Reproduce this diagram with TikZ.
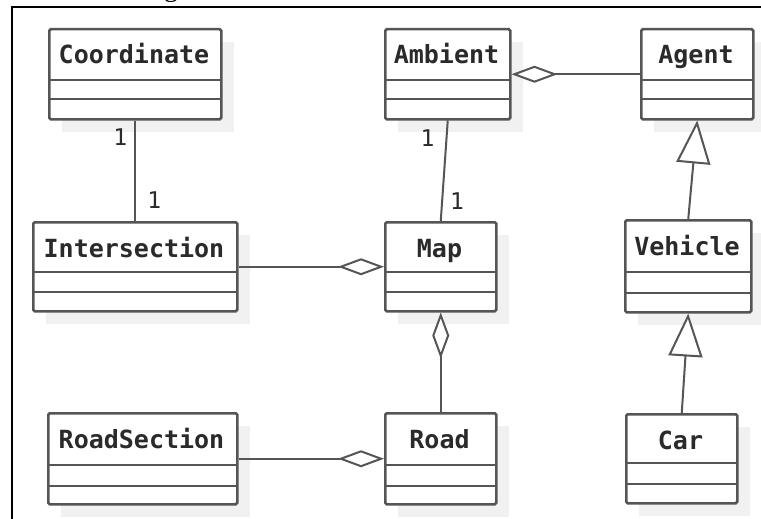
\documentclass[tikz,border=0pt]{standalone}
\usepackage{fontspec}
\setmonofont{DejaVu Sans Mono}
\newfontfamily\gfont{Liberation Serif}
\usetikzlibrary{arrows.meta}
\definecolor{linec}{HTML}{555555}
\definecolor{shadowc}{HTML}{F1F1F1}
\definecolor{textc}{HTML}{2A2A2A}
\tikzset{
  classbox/.style={draw=linec, line width=2.5pt, fill=white, rounded corners=1.5pt, inner sep=0pt},
  sepline/.style={draw=linec, line width=2.5pt},
  classname/.style={font=\ttfamily\bfseries\fontsize{25}{30}\selectfont, text=textc, anchor=base, inner sep=0pt},
  mult/.style={font=\ttfamily\fontsize{23}{28}\selectfont, text=textc, inner sep=0pt},
  conn/.style={draw=linec, line width=2pt},
  agg/.style={-{Diamond[fill=white, length=46pt, width=17pt]}},
  gen/.style={-{Triangle[fill=white, length=43pt, width=34pt]}},
}
\newcommand\umlclass[8]{%
  \fill[shadowc] ({#3+14},{#4+14}) rectangle ({#5+14},{#6+14});
  \node[classbox, minimum width={(#5-#3)*1pt}, minimum height={(#6-#4)*1pt}, anchor=north west] (#1) at (#3,#4) {};
  \draw[sepline] ({#3},{#7}) -- ({#5},{#7});
  \draw[sepline] ({#3},{#8}) -- ({#5},{#8});
  \node[classname] (#1-name) at ({(#3+#5)/2},{#4+36}) {#2};
}
\begin{document}
\begin{tikzpicture}[x=1pt, y=-1pt]
\useasboundingbox (0,0) rectangle (761,519);
\fill[white] (0,0) rectangle (761,519);
% frame
\draw[black, line width=1.5pt] (12,530) -- (12,7) -- (775,7);
\node[font=\gfont\fontsize{28}{30}\selectfont, anchor=base, inner sep=0pt] (cut) at (171,-3) {g};
% classes
\umlclass{coord}{Coordinate}{48}{28}{220}{118}{80}{99}
\umlclass{amb}{Ambient}{384}{28}{509}{118}{80}{99}
\umlclass{agent}{Agent}{640}{28}{752}{118}{80}{99}
\umlclass{inter}{Intersection}{32}{221}{236}{310}{272}{292}
\umlclass{map}{Map}{384}{221}{495}{310}{272}{292}
\umlclass{veh}{Vehicle}{624}{219}{750}{311}{272}{293}
\umlclass{rs}{RoadSection}{47}{412}{236}{503}{465}{486}
\umlclass{road}{Road}{384}{412}{495}{503}{465}{486}
\umlclass{car}{Car}{625}{413}{736}{502}{463}{484}
% connectors
\draw[conn] (coord.south) -- (inter.north)
  node[mult, pos=0.165, anchor=east, xshift=-7pt] (m1) {1}
  node[mult, pos=0.79, anchor=west, xshift=11pt] (m2) {1};
\draw[conn] (amb.south) -- (map.north)
  node[mult, pos=0.175, anchor=east, xshift=-11pt] (m3) {1}
  node[mult, pos=0.8, anchor=west, xshift=7pt] (m4) {1};
\draw[conn, agg] (agent.west) -- (amb.east);
\draw[conn, agg] (inter.east) -- (map.west);
\draw[conn, agg] (rs.east) -- (road.west);
\draw[conn, agg] (road.north) -- (map.south);
\draw[conn, gen] (veh.north) -- (agent.south);
\draw[conn, gen] (car.north) -- (veh.south);
\end{tikzpicture}
\end{document}
